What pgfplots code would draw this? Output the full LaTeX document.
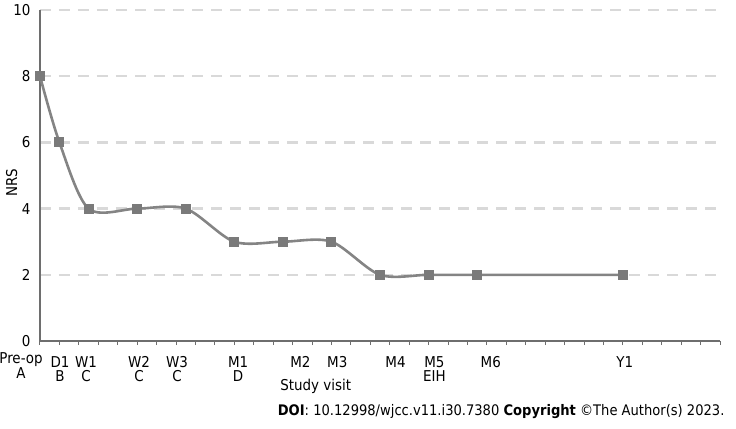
\documentclass[border=0pt]{standalone}
\usepackage{fontspec}
\setmainfont{DejaVu Sans}[FakeStretch=0.9]
\usepackage{pgfplots}
\pgfplotsset{compat=1.18}

\definecolor{linegray}{RGB}{132,132,132}
\definecolor{markgray}{RGB}{122,122,122}
\definecolor{gridgray}{RGB}{217,217,217}
\definecolor{axisgray}{RGB}{110,110,110}

\begin{document}
\begin{tikzpicture}
\useasboundingbox (-40bp,-88bp) rectangle (696bp,341bp);
\begin{axis}[
  scale only axis, width=680bp, height=331bp,
  xmin=0, xmax=35, ymin=0, ymax=10,
  axis lines=left, axis line style={-, axisgray, line width=1.2bp},
  /pgf/number format/assume math mode=true,
  ytick={0,2,...,10}, ymajorgrids,
  grid style={gridgray, line width=2.5bp, dash pattern=on 11bp off 8bp},
  every y tick/.style={draw=none},
  yticklabel style={font=\fontsize{15}{15}\selectfont, anchor=east, inner sep=0pt, xshift=-5bp},
  xtick={1.03,2.37,5.1,7.05,10.2,13.4,15.3,18.3,20.3,23.2,30.1},
  xticklabels={{D1\\B},{W1\\C},{W2\\C},{W3\\C},{M1\\D},M2,M3,M4,{M5\\EIH},M6,Y1},
  xticklabel style={font=\fontsize{15}{14}\selectfont, align=center, anchor=north, inner sep=0pt, yshift=-11bp},
  major x tick style={draw=none},
  minor xtick={0,1,...,35},
  minor x tick style={axisgray, line width=1bp},
  tick align=outside,
  minor tick length=4bp,
  clip=false,
]
\addplot[linegray, line width=2.6bp, smooth, tension=0.5,
  mark=square*, mark size=4.5bp, mark options={markgray, fill=markgray, line width=0pt}]
  coordinates {(0,8) (1,6) (2.5,4) (5,4) (7.5,4) (10,3) (12.5,3) (15,3) (17.5,2) (20,2) (22.5,2) (30,2)};
\end{axis}
\node[anchor=north, align=center, inner sep=0pt, font=\fontsize{15}{14}\selectfont] at (-19bp,-11bp) {Pre-op\\A};
\node[rotate=90, anchor=base, font=\fontsize{15}{15}\selectfont] at (-23bp,158bp) {NRS};
\node[anchor=base, font=\fontsize{15}{15}\selectfont] at (275.7bp,-49bp) {Study visit};
\node[anchor=base east, font=\fontsize{14.6}{14.6}\selectfont] at (688bp,-74bp)
  {\textbf{DOI}: 10.12998/wjcc.v11.i30.7380 \textbf{Copyright} ©The Author(s) 2023.};
\end{tikzpicture}
\end{document}
